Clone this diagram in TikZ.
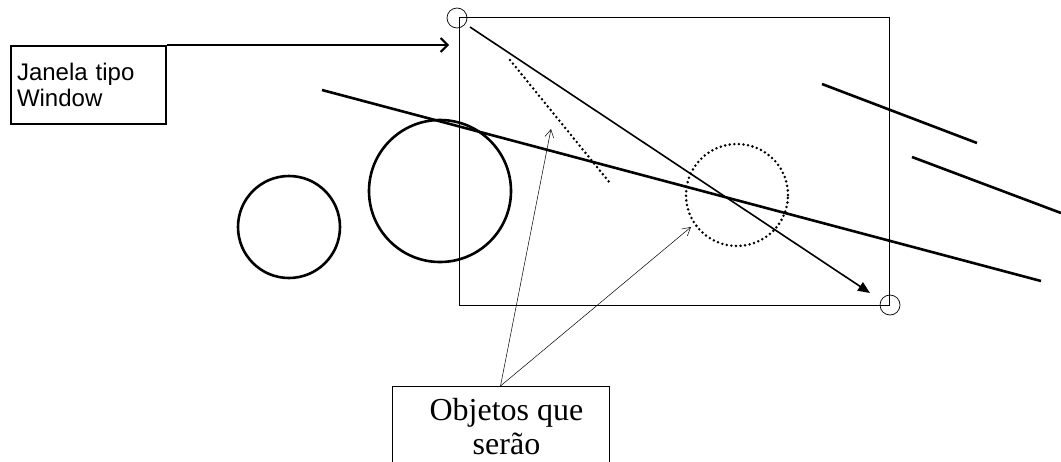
\documentclass[tikz,border=0pt]{standalone}
\usepackage{fontspec}
\setmainfont{Liberation Serif}
\newfontfamily\arialf{Liberation Sans}
\usetikzlibrary{arrows.meta}
\begin{document}
\begin{tikzpicture}[x=1pt,y=-1pt,
  thickline/.style={line width=2.6pt},
  dotline/.style={line width=2.8pt, line cap=round, dash pattern=on 0pt off 4.6pt},
  corner/.style={draw, circle, minimum size=20pt, inner sep=0pt, line width=0.7pt},
  thinarrow/.style={line width=0.5pt, -{Straight Barb[length=8pt,width=9pt]}}]
\useasboundingbox (0,0) rectangle (1061,461);
% window rectangle
\draw[line width=1pt] (459,17) rectangle (889,305);
\node[corner] (c1) at (457,18) {};
\node[corner] (c2) at (890,305) {};
% Janela box
\node[draw, line width=2pt, minimum width=152pt, minimum height=78pt, text width=143pt, inner xsep=6pt, inner ysep=4pt, align=left, anchor=north west, font=\arialf\fontsize{24}{26.5}\selectfont] (janela) at (10,45) {Janela tipo\\Window};
\coordinate (jtip) at (449,45);
\draw[line width=2pt, -{Straight Barb[length=7pt,width=14pt]}] (janela.north east) -- (jtip);
% diagonal arrow
\coordinate (d1) at (470,27);
\coordinate (d2) at (870,293);
\draw[line width=1.6pt, -{Triangle[length=12pt,width=10pt]}] (d1) -- (d2);
% dotted line
\coordinate (p1) at (510,60);
\coordinate (p2) at (610,183);
\draw[dotline] (p1) -- (p2);
% long line
\coordinate (l1) at (322,90);
\coordinate (l2) at (1041,281);
\draw[thickline] (l1) -- (l2);
% circles
\node[draw, circle, line width=2.6pt, minimum size=102pt, inner sep=0pt] (cA) at (289,227) {};
\node[draw, circle, line width=2.6pt, minimum size=142pt, inner sep=0pt] (cB) at (440,191) {};
\node[draw, circle, dotline, minimum size=102pt, inner sep=0pt] (cC) at (737,195) {};
% right lines
\coordinate (r1) at (822,84);
\coordinate (r2) at (977,143);
\coordinate (r3) at (912,157);
\coordinate (r4) at (1061,213);
\draw[thickline] (r1) -- (r2);
\draw[thickline] (r3) -- (r4);
% Objetos box
\node[draw, line width=1pt, minimum width=217pt, minimum height=80pt, anchor=north, inner sep=0pt, align=center, font=\fontsize{32}{34}\selectfont] (obj) at (500.5,386) {\hspace*{12pt}Objetos que\\\hspace*{12pt}serão};
\coordinate (o1) at (551,129);
\coordinate (o2) at (691,227);
\draw[thinarrow] (obj.north) -- (o1);
\draw[thinarrow] (obj.north) -- (o2);
\end{tikzpicture}
\end{document}
